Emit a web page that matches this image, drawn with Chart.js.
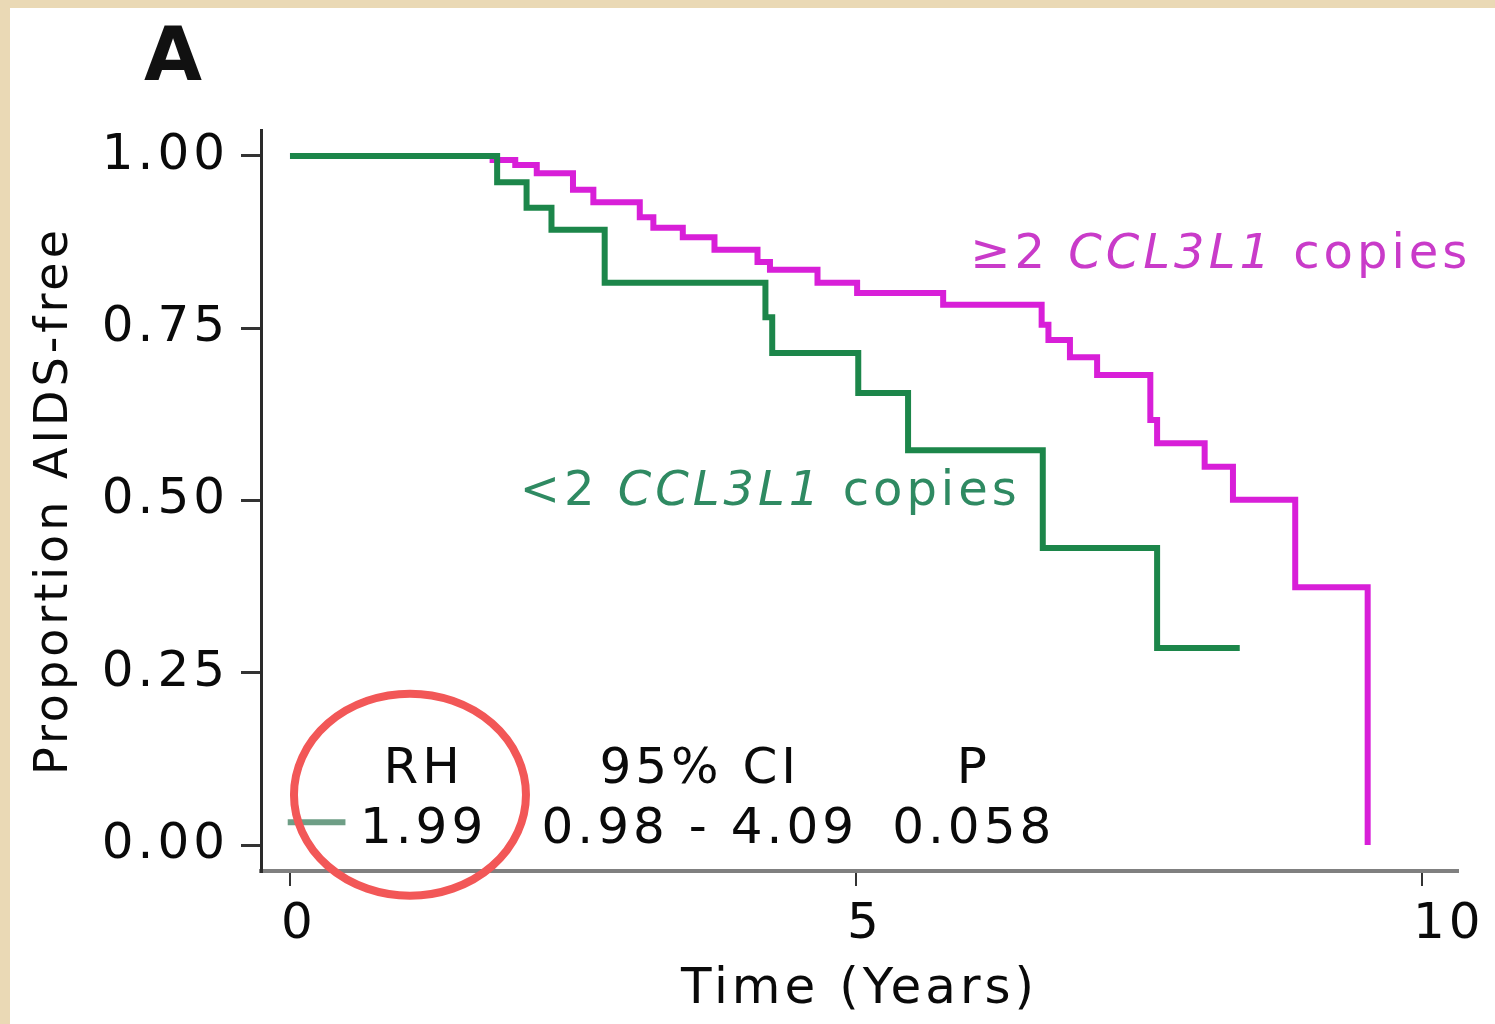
<!DOCTYPE html>
<html><head><meta charset="utf-8">
<script src="https://cdn.jsdelivr.net/npm/chart.js@4.4.1/dist/chart.umd.min.js"></script>
<style>
html,body{margin:0;padding:0;background:#EAD9B5;width:1495px;height:1024px;overflow:hidden}
#wrap{position:absolute;left:10px;top:8px;width:1485px;height:1016px;background:#fff}
canvas{display:block}
</style></head><body>
<div id="wrap"><canvas id="c" width="1485" height="1016"></canvas></div>
<script>
// ---- data ----
const lowTimes = [0, 1.83, 2.09, 2.31, 2.78, 4.20, 4.26, 5.02, 5.46, 6.65, 7.66, 8.39];
const lowSurv  = [1.000, 0.962, 0.925, 0.893, 0.816, 0.766, 0.714, 0.656, 0.573, 0.431, 0.286, 0.286];
const highTimes = [0, 1.79, 1.99, 2.18, 2.50, 2.68, 3.09, 3.21, 3.47, 3.75, 4.13, 4.24, 4.66, 5.01, 5.77, 6.64, 6.70, 6.89, 7.13, 7.60, 7.66, 8.08, 8.33, 8.88, 9.52];
const highSurv  = [1.000, 0.994, 0.987, 0.975, 0.951, 0.933, 0.911, 0.896, 0.882, 0.864, 0.846, 0.835, 0.816, 0.801, 0.784, 0.755, 0.733, 0.708, 0.682, 0.617, 0.583, 0.549, 0.501, 0.374, 0.0];
const xTicks = [0, 5, 10];
const yTicks = [0, 0.25, 0.5, 0.75, 1];
const lowLabel = ['<2 ', 'CCL3L1', ' copies'];
const highLabel = ['\u22652 ', 'CCL3L1', ' copies'];
const statHeaders = ['RH', '95% CI', 'P'];
const statValues = ['1.99', '0.98 - 4.09', '0.058'];
const panelLabel = 'A';
const xTitle = 'Time (Years)';
const yTitle = 'Proportion AIDS-free';

const GREEN = '#1c864a';
const MAGENTA = '#d81fd8';
const FONT = '"DejaVu Sans", Verdana, sans-serif';
const SPACING = '4px';

const toPts = (ts, ss) => ts.map((t, i) => ({x: t, y: ss[i]}));

function drawMixed(ctx, parts, x, y, size, color) {
  ctx.fillStyle = color;
  ctx.textAlign = 'left';
  ctx.textBaseline = 'alphabetic';
  let cx = x;
  parts.forEach((p, i) => {
    ctx.font = (i === 1 ? 'italic ' : '') + size + 'px ' + FONT;
    ctx.fillText(p, cx, y);
    cx += ctx.measureText(p).width;
  });
}

const spacing = {
  id: 'spacing',
  beforeUpdate(chart) { chart.ctx.letterSpacing = SPACING; },
  beforeLayout(chart) { chart.ctx.letterSpacing = SPACING; },
  beforeDraw(chart) { chart.ctx.letterSpacing = SPACING; }
};

const annot = {
  id: 'annot',
  afterDatasetsDraw(chart) {
    const {ctx, scales: {x, y}} = chart;
    ctx.save();
    ctx.letterSpacing = '0px';
    // panel letter
    ctx.font = 'bold 75px ' + FONT;
    ctx.fillStyle = '#111';
    ctx.textAlign = 'left';
    ctx.textBaseline = 'alphabetic';
    ctx.fillText(panelLabel, 134, 72);
    ctx.letterSpacing = SPACING;
    // curve labels
    drawMixed(ctx, highLabel, x.getPixelForValue(6.01), y.getPixelForValue(0.837), 48, '#c93bc9');
    drawMixed(ctx, lowLabel, x.getPixelForValue(2.03), y.getPixelForValue(0.493), 48, '#2f8a62');
    // stats table
    ctx.font = '50px ' + FONT;
    ctx.fillStyle = '#0a0a0a';
    ctx.textAlign = 'center';
    const cols = [1.18, 3.62, 6.04];
    statHeaders.forEach((s, i) => ctx.fillText(s, x.getPixelForValue(cols[i]), y.getPixelForValue(0.09)));
    statValues.forEach((s, i) => ctx.fillText(s, x.getPixelForValue(cols[i]), y.getPixelForValue(0.003)));
    // legend marker
    ctx.strokeStyle = '#6e9e86';
    ctx.lineWidth = 6;
    ctx.beginPath();
    ctx.moveTo(x.getPixelForValue(-0.02), y.getPixelForValue(0.033));
    ctx.lineTo(x.getPixelForValue(0.49), y.getPixelForValue(0.033));
    ctx.stroke();
    // red highlight ellipse
    ctx.strokeStyle = '#f25757';
    ctx.lineWidth = 8;
    ctx.beginPath();
    ctx.ellipse(x.getPixelForValue(1.06), y.getPixelForValue(0.073), 116, 101, 0, 0, Math.PI * 2);
    ctx.stroke();
    ctx.restore();
  }
};

new Chart(document.getElementById('c'), {
  type: 'line',
  data: {
    datasets: [
      {label: lowLabel.join(''), data: toPts(lowTimes, lowSurv), borderColor: GREEN, borderWidth: 6, stepped: 'before', pointRadius: 0, fill: false, borderCapStyle: 'butt', borderJoinStyle: 'miter'},
      {label: highLabel.join(''), data: toPts(highTimes, highSurv), borderColor: MAGENTA, borderWidth: 6, stepped: 'before', pointRadius: 0, fill: false, borderCapStyle: 'butt', borderJoinStyle: 'miter'}
    ]
  },
  options: {
    responsive: false,
    animation: false,
    devicePixelRatio: 1,
    layout: {padding: {top: 122, right: 37, left: 0, bottom: 0}},
    plugins: {legend: {display: false}, tooltip: {enabled: false}},
    scales: {
      x: {
        type: 'linear', min: -0.256, max: 10.318,
        afterFit: s => { s.height = 153; s.paddingLeft = 0; s.paddingRight = 0; },
        afterBuildTicks: s => { s.ticks = xTicks.map(v => ({value: v})); },
        border: {color: '#808080', width: 4},
        grid: {drawOnChartArea: false, drawTicks: true, tickLength: 15, color: '#333', lineWidth: 2},
        ticks: {font: {family: FONT, size: 50}, color: '#0a0a0a', padding: 9, maxRotation: 0, align: 'start', labelOffset: -9, callback: v => String(v)},
        title: {display: true, text: xTitle, font: {family: FONT, size: 50}, color: '#0a0a0a', padding: {top: 0, bottom: 4}}
      },
      y: {
        type: 'linear', min: -0.0377, max: 1.0377,
        afterFit: s => { s.width = 251; s.paddingTop = 0; s.paddingBottom = 0; },
        afterBuildTicks: s => { s.ticks = yTicks.map(v => ({value: v})); },
        border: {color: '#2a2a2a', width: 3},
        grid: {drawOnChartArea: false, drawTicks: true, tickLength: 20, color: '#333', lineWidth: 3},
        ticks: {font: {family: FONT, size: 50}, color: '#0a0a0a', padding: 12, callback: v => v.toFixed(2)},
        title: {display: true, text: yTitle, font: {family: FONT, size: 46}, color: '#0a0a0a', padding: {top: 17, bottom: 0}}
      }
    }
  },
  plugins: [spacing, annot]
});
</script>
</body></html>
